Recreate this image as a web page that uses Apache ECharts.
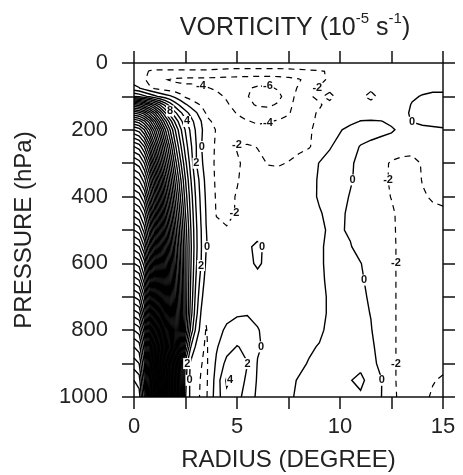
<!DOCTYPE html>
<html><head><meta charset="utf-8">
<script src="https://cdn.jsdelivr.net/npm/echarts@6/dist/echarts.min.js"></script>
<style>html,body{margin:0;padding:0;background:#fff}#c{width:463px;height:475px}</style>
</head><body><div id="c"></div>
<script>
// ---------------- data ----------------
const radius = [0,0.25,0.5,0.75,1,1.25,1.5,1.75,2,2.25,2.5,2.75,3,3.25,3.5,4,4.5,5,5.5,6,6.5,7,7.5,8,8.5,9,9.5,10,10.5,11,11.5,12,12.5,13,13.5,14,14.5,15];
const pressure = [0,25,50,75,100,125,150,175,200,250,300,350,400,450,500,550,600,650,700,750,800,850,900,950,1000];
// vorticity (10^-5 s^-1), one row per pressure level, one value per radius
const vorticity = [
 [-0.8,-0.9,-1.0,-1.0,-1.0,-1.0,-1.0,-1.0,-1.0,-1.0,-1.0,-1.0,-1.0,-1.0,-1.0, -1.0,-1.0,-1.0,-1.0,-1.0,-1.0,-1.0,-1.0,-1.0,-1.0,-1.0,-1.0,-1.0,-1.0,-1.0,-1.0,-1.0,-0.9,-0.8,-0.7,-0.6,-0.5,-0.5],
 [-1.1,-1.2,-1.6,-2.1,-2.2,-2.2,-2.2,-2.2,-2.2,-2.2,-2.2,-2.2,-2.2,-2.2,-2.2, -2.3,-2.4,-2.5,-2.5,-2.5,-2.5,-2.5,-2.4,-2.3,-2.2,-2.1,-1.9,-1.6,-1.4,-1.4,-1.4,-1.4,-1.3,-1.2,-1.0,-0.8,-0.6,-0.5],
 [-1.0,-1.3,-1.8,-2.6,-3.2,-3.6,-3.9,-4.1,-4.3,-4.4,-4.5,-4.5,-4.5,-4.5,-4.5, -4.6,-4.7,-4.8,-4.9,-5.0,-5.0,-4.9,-4.6,-4.2,-3.2,-2.3,-1.8,-1.5,-1.4,-1.5,-1.5,-1.4,-1.3,-1.1,-0.8,-0.5,-0.4,-0.4],
 [0.6,0.1,-0.9,-1.7,-2.3,-2.7,-3.0,-3.2,-3.3,-3.4,-3.5,-3.5,-3.6,-3.8,-3.9, -4.2,-4.6,-5.2,-5.8,-6.3,-6.3,-5.8,-4.8,-3.8,-2.4,-1.9,-1.7,-1.5,-1.4,-1.6,-1.8,-1.6,-1.3,-1.0,-0.5,-0.4,-0.3,-0.3],
 [6,5.5,4.5,3.5,2.5,1.6,0.9,0.3,-0.5,-1.4,-2.3,-2.8,-3.0,-3.0,-3.0, -3.6,-4.2,-5.0,-5.9,-6.8,-7.0,-6.5,-5.0,-3.2,-2.1,-1.8,-2.3,-1.6,-1.5,-1.8,-2.3,-1.7,-1.3,-0.7,-0.2,0.1,0.3,0.3],
 [20,19,17,15,12.5,10,7.5,5,3,1.5,0.3,-0.7,-1.6,-2.1,-2.4, -3.0,-3.8,-4.6,-5.6,-6.2,-6.3,-5.8,-4.6,-3.0,-2.2,-2.1,-1.7,-1.4,-1.3,-1.3,-1.6,-1.5,-1.2,-0.6,0.1,0.4,0.5,0.5],
 [30,29,27,24,20.5,16.5,12.5,9,6.5,4.5,2.8,1.4,0.3,-0.9,-2.1, -2.5,-3.2,-4.1,-4.8,-5.2,-5.3,-5.0,-4.2,-2.9,-2.2,-1.9,-1.6,-1.2,-0.8,-0.6,-0.6,-0.7,-0.7,-0.4,0.2,0.5,0.5,0.5],
 [38,37,34.5,31,26.5,21.5,17,13,9.5,6.8,4.5,2.8,1.3,0.1,-1.8, -2.2,-2.8,-3.5,-3.9,-4.2,-4.1,-3.8,-3.4,-2.8,-2.2,-1.8,-1.2,-0.6,-0.3,0.05,0.1,0.05,-0.3,-0.3,0.05,0.25,0.3,0.3],
 [44,43,40,36,31,26,20.5,16,12,8.5,5.8,3.6,1.8,0.4,-1.0, -2.1,-2.6,-3.0,-3.4,-3.6,-3.5,-3.2,-2.9,-2.5,-2.2,-1.5,-0.7,-0.1,0.4,0.5,0.5,0.4,0.2,-0.4,-0.5,-0.3,-0.2,-0.1],
 [52,51,48,43,37,31,25,19.5,14.5,10.5,7,4.4,2.2,0.2,-1.2, -2.2,-2.4,-1.9,-1.8,-2.05,-2.4,-2.5,-2.4,-2.3,-2.1,-1.4,-0.1,0.4,0.3,-0.05,-0.3,-0.6,-0.9,-1.2,-1.5,-1.2,-0.8,-0.6],
 [58,57,54,49,42,35,28.5,22.5,17,12.5,8.5,5.2,2.2,0.5,-1.0, -2.3,-2.5,-2.2,-1.6,-1.7,-2.05,-2.1,-1.95,-1.6,-1.2,0.1,0.4,0.5,0.2,-0.4,-0.9,-1.5,-2.2,-2.5,-2.4,-1.9,-1.4,-1.2],
 [63,62,59,54,47,39.5,32,25.5,19.5,14.5,10,6.2,3.2,1.2,-0.6, -2.3,-2.5,-2.1,-1.5,-1.4,-1.6,-1.6,-1.4,-1.1,-0.6,0.2,0.5,0.5,0.15,-0.5,-1.0,-1.6,-2.2,-2.6,-2.5,-1.95,-1.7,-1.5],
 [68,67,64,58,51,43,35,28,21.5,16,11,7,3.8,1.5,-0.3, -2.2,-2.4,-1.9,-1.4,-1.2,-1.2,-1.2,-1.0,-0.8,-0.4,0.15,0.6,0.5,-0.1,-0.6,-1.1,-1.6,-2.05,-2.3,-2.3,-2.1,-1.9,-1.8],
 [73,72,69,63,55,46.5,38,30.5,23.5,17.5,12,7.6,4.2,1.8,-0.1, -2.1,-2.3,-1.9,-1.3,-1.0,-1.0,-1.0,-0.9,-0.7,-0.5,-0.1,0.3,0.3,-0.3,-0.8,-1.2,-1.6,-1.8,-2.4,-2.4,-2.3,-2.2,-2.15],
 [78,77,73,67,59,50,41,33,25.5,19,13,8.2,4.5,2.1,0.05, -1.6,-1.9,-1.7,-1.2,-0.8,-0.9,-1.0,-0.9,-0.8,-0.6,-0.3,0.2,0.15,-0.2,-0.8,-1.2,-1.6,-1.75,-2.4,-2.4,-2.3,-2.2,-2.2],
 [83,82,78,71,62.5,53,44,35,27,20,13.5,8.5,4.6,2.2,0.1, -0.9,-1.2,-1.0,-0.3,0.4,-0.5,-0.9,-0.9,-0.8,-0.6,-0.2,0.3,0.4,0.1,-0.6,-1.1,-1.5,-1.7,-2.4,-2.4,-2.35,-2.3,-2.3],
 [88,87,83,75,66,56,46,37,28,20.5,13.5,8.3,4.4,2.1,-0.3, -0.8,-1.0,-0.9,-0.5,0.3,-0.5,-0.8,-0.8,-0.8,-0.6,-0.2,0.3,0.5,0.4,0.05,-0.6,-1.3,-1.7,-2.4,-2.4,-2.35,-2.3,-2.3],
 [93,92,87,79,69,58.5,48,38,29,21,13.5,8,4,1.3,-0.8, -0.9,-1.0,-0.9,-0.8,-0.6,-0.7,-0.8,-0.8,-0.8,-0.5,-0.3,0.3,0.6,0.5,0.2,-0.4,-1.2,-1.7,-2.4,-2.4,-2.35,-2.3,-2.3],
 [98,97,92,83,72,61,50,39.5,30,21.5,13.5,7.6,3.4,0.6,-1.4, -1.2,-0.8,-0.5,-0.5,-0.6,-0.7,-0.8,-0.8,-0.7,-0.6,-0.4,0.2,0.7,0.6,0.3,-0.2,-1.1,-1.7,-2.4,-2.4,-2.35,-2.3,-2.3],
 [103,102,96,87,75.5,64,52,41,31,22,13.5,7,2.8,-0.1,-1.8, -1.0,-0.5,-0.2,-0.1,-0.4,-0.7,-0.8,-0.8,-0.7,-0.5,-0.4,0.2,0.8,0.7,0.4,-0.05,-1.0,-1.7,-2.4,-2.4,-2.35,-2.3,-2.3],
 [108,107,101,91,79,67,54.5,43,32,22,12,5.5,1.6,-0.8,-2.1, -0.6,0.3,0.8,0.7,0.1,-0.5,-0.7,-0.7,-0.6,-0.3,-0.3,0.4,0.9,0.8,0.5,0.1,-0.9,-1.7,-2.4,-2.4,-2.35,-2.3,-2.3],
 [112,111,105,95,82,69,56,44,31,19,8,2.1,-0.3,-1.5,-2.3, -0.2,1.2,2.1,1.6,0.2,-0.4,-0.6,-0.6,-0.5,-0.2,0.1,0.6,1.0,1.0,0.7,0.3,-0.6,-1.7,-2.4,-2.4,-2.35,-2.3,-2.3],
 [115,114,108,97,83,68,54,40.5,27.5,14,3.2,-0.4,-1.3,-1.9,-2.4, 0.3,2.6,3.0,2.05,-0.1,-0.5,-0.6,-0.5,-0.3,0.1,0.4,0.8,1.2,1.5,1.3,0.6,-0.5,-1.7,-2.4,-2.4,-2.3,-2.2,-2.2],
 [118,117,110,99,85,70,55,40.5,26.5,13,2.5,-0.6,-1.5,-2.1,-2.4, 0.8,4.3,3.4,1.5,-0.2,-0.5,-0.5,-0.3,0.1,0.3,0.6,0.9,1.3,1.9,2.6,1.0,0.1,-1.7,-2.4,-2.4,-2.3,-2.05,-1.9],
 [120,119,112,100,86,71,55.5,40.5,26,12.5,2.1,-0.5,-1.5,-2.2,-2.3, 1.0,3.6,2.8,0.9,-0.3,-0.5,-0.4,-0.2,0.2,0.4,0.6,0.9,1.3,1.7,1.6,0.9,0.05,-1.7,-2.3,-2.3,-2.2,-1.9,-1.8]
];
const contourStep = 2;
const xTickLabels = [0, 5, 10, 15];
const yTickLabels = [0, 200, 400, 600, 800, 1000];
// contour label hints: [level, approx radius, approx pressure]
const labelHints = [
 [-4,3.2,57],[-6,6.3,100],[-4,6.4,174],[-2,4.75,230],[-2,5.0,437],[-2,8.9,75],
 [8,1.85,140],[4,2.6,177],[0,3.1,240],[2,3.0,305],[0,3.5,540],[2,3.25,605],
 [2,2.57,900],[0,2.6,970],[0,6.4,569],[0,6.2,835],[2,5.5,900],[4,4.7,960],
 [0,10.6,335],[0,11.1,635],[0,12.2,965],[0,13.5,180],[-2,12.5,335],[-2,12.8,600],[-2,12.8,900]
];

// ---------------- marching squares ----------------
function contour(R, P, V, L) {
  const nx = R.length, ny = P.length, pts = {}, segs = [];
  function ep(key, i0, j0, i1, j1) {
    if (pts[key]) return;
    const va = V[j0][i0], vb = V[j1][i1];
    const t = (L - va) / (vb - va);
    pts[key] = [R[i0] + t * (R[i1] - R[i0]), P[j0] + t * (P[j1] - P[j0])];
  }
  for (let j = 0; j < ny - 1; j++) for (let i = 0; i < nx - 1; i++) {
    const a = V[j][i], b = V[j][i+1], c = V[j+1][i+1], d = V[j+1][i];
    const A = a >= L, B = b >= L, C = c >= L, D = d >= L;
    const eT = 'h'+i+'_'+j, eR = 'v'+(i+1)+'_'+j, eB = 'h'+i+'_'+(j+1), eL = 'v'+i+'_'+j;
    const cr = [];
    if (A !== B) { ep(eT, i, j, i+1, j); cr.push(eT); }
    if (B !== C) { ep(eR, i+1, j, i+1, j+1); cr.push(eR); }
    if (D !== C) { ep(eB, i, j+1, i+1, j+1); cr.push(eB); }
    if (A !== D) { ep(eL, i, j, i, j+1); cr.push(eL); }
    if (cr.length === 2) segs.push([cr[0], cr[1]]);
    else if (cr.length === 4) {
      const m = (a + b + c + d) / 4 >= L;
      if (A === m) { segs.push([eT, eR]); segs.push([eB, eL]); }
      else { segs.push([eL, eT]); segs.push([eR, eB]); }
    }
  }
  const adj = {};
  segs.forEach((s, k) => { (adj[s[0]] = adj[s[0]] || []).push(k); (adj[s[1]] = adj[s[1]] || []).push(k); });
  const used = new Array(segs.length).fill(false), lines = [];
  for (let k = 0; k < segs.length; k++) {
    if (used[k]) continue;
    used[k] = true;
    const chain = [segs[k][0], segs[k][1]];
    let cur = chain[chain.length - 1];
    while (true) {
      const n = (adj[cur] || []).find(q => !used[q]);
      if (n === undefined) break;
      used[n] = true; const s = segs[n]; cur = s[0] === cur ? s[1] : s[0]; chain.push(cur);
    }
    cur = chain[0];
    while (true) {
      const n = (adj[cur] || []).find(q => !used[q]);
      if (n === undefined) break;
      used[n] = true; const s = segs[n]; cur = s[0] === cur ? s[1] : s[0]; chain.unshift(cur);
    }
    lines.push(chain.map(key => pts[key]));
  }
  return lines;
}

let vmin = Infinity, vmax = -Infinity;
vorticity.forEach(r => r.forEach(v => { vmin = Math.min(vmin, v); vmax = Math.max(vmax, v); }));
const levels = [];
for (let L = Math.ceil(vmin / contourStep) * contourStep; L <= vmax; L += contourStep) levels.push(L);

const solid = [], dashed = [], byLevel = {};
levels.forEach(L => {
  const ls = contour(radius, pressure, vorticity, L);
  byLevel[L] = ls;
  ls.forEach(pts => (L < 0 ? dashed : solid).push({ coords: pts }));
});

// snap label hints onto their contour
const labelData = [];
labelHints.forEach(([L, r0, p0]) => {
  let best = null, bd = Infinity;
  (byLevel[L] || []).forEach(ls => ls.forEach(pt => {
    const dx = (pt[0] - r0) * 20.6, dy = (pt[1] - p0) * 0.334;
    const dd = dx * dx + dy * dy;
    if (dd < bd) { bd = dd; best = pt; }
  }));
  if (best && bd < 400) labelData.push({ value: best, label: { formatter: String(L) } });
});

// ---------------- chart ----------------
const FONT = '"Liberation Sans", Arial, Helvetica, sans-serif';
const INK = '#111';
const chart = echarts.init(document.getElementById('c'), null, { renderer: 'canvas' });
const axisCommon = {
  axisLine: { show: true, onZero: false, lineStyle: { color: INK, width: 1.5 } },
  axisTick: { show: true, inside: false, length: 12, lineStyle: { color: INK, width: 1.5 } },
  splitLine: { show: false }
};
chart.setOption({
  animation: false,
  backgroundColor: '#fff',
  textStyle: { fontFamily: FONT },
  title: {
    text: '{a|VORTICITY (10}{s|-5}{a| s}{s|-1}{a|)}',
    left: 290, top: 6, textAlign: 'center',
    textStyle: { fontWeight: 'normal', rich: {
      a: { fontSize: 25, fontWeight: 'normal', color: '#222', fontFamily: FONT, lineHeight: 30, verticalAlign: 'bottom' },
      s: { fontSize: 15, fontWeight: 'normal', color: '#222', fontFamily: FONT, lineHeight: 16, verticalAlign: 'top' }
    } }
  },
  grid: { left: 134, right: 20, top: 63, bottom: 78, containLabel: false, outerBoundsMode: 'none' },
  xAxis: [
    Object.assign({ type: 'value', position: 'bottom', min: 0, max: 15, interval: 2.5,
      axisLabel: { margin: 19, fontSize: 22, color: '#222', fontFamily: FONT,
        formatter: v => xTickLabels.includes(v) ? String(v) : '' },
      name: 'RADIUS (DEGREE)', nameLocation: 'middle', nameGap: 51,
      nameTextStyle: { fontSize: 24, color: '#222', fontFamily: FONT } }, axisCommon),
    Object.assign({ type: 'value', position: 'top', min: 0, max: 15, interval: 2.5,
      axisLabel: { show: false } }, axisCommon)
  ],
  yAxis: [
    Object.assign({ type: 'value', position: 'left', inverse: true, min: 0, max: 1000, interval: 100,
      axisLabel: { margin: 26, fontSize: 22, color: '#222', fontFamily: FONT,
        formatter: v => yTickLabels.includes(v) ? String(v) : '' },
      name: 'PRESSURE (hPa)', nameLocation: 'middle', nameGap: 98, nameRotate: 90,
      nameTextStyle: { fontSize: 24, color: '#222', fontFamily: FONT } }, axisCommon),
    Object.assign({ type: 'value', position: 'right', inverse: true, min: 0, max: 1000, interval: 100,
      axisLabel: { show: false } }, axisCommon)
  ],
  series: [
    { type: 'lines', coordinateSystem: 'cartesian2d', polyline: true, silent: true, z: 2,
      lineStyle: { color: '#000', width: 1.4, opacity: 1, type: 'solid' }, data: solid },
    { type: 'lines', coordinateSystem: 'cartesian2d', polyline: true, silent: true, z: 2,
      lineStyle: { color: '#000', width: 1.2, opacity: 1, type: [6, 5] }, data: dashed },
    { type: 'scatter', silent: true, z: 5, symbol: 'circle', symbolSize: 2,
      itemStyle: { color: 'rgba(255,255,255,0)' },
      label: { show: true, position: 'inside', fontSize: 11, fontWeight: 'bold', color: '#111',
        fontFamily: FONT, backgroundColor: '#fff', padding: [0, 1], opacity: 1 },
      data: labelData }
  ]
});
</script>
</body></html>
